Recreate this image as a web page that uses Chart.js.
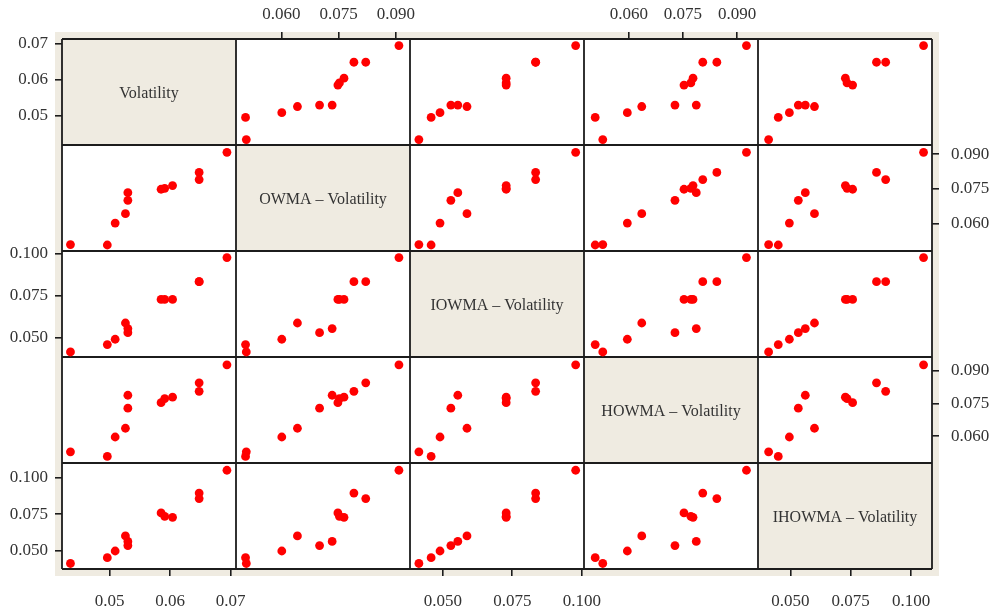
<!DOCTYPE html>
<html>
<head>
<meta charset="utf-8">
<script src="https://cdn.jsdelivr.net/npm/chart.js@4.4.1/dist/chart.umd.min.js"></script>
<style>
html, body { margin: 0; padding: 0; background: #ffffff; }
#wrap { position: relative; width: 1000px; height: 612px; }
</style>
</head>
<body>
<div id="wrap"><canvas id="c" width="1000" height="612"></canvas></div>
<script>
// ---- data ----
const variables = ['Volatility', 'OWMA', 'IOWMA', 'HOWMA', 'IHOWMA'];
const diagonalLabels = ['Volatility', 'OWMA \u2013 Volatility', 'IOWMA \u2013 Volatility', 'HOWMA \u2013 Volatility', 'IHOWMA \u2013 Volatility'];

const volatility = [0.0435, 0.0496, 0.0509, 0.0526, 0.0530, 0.0530, 0.0585, 0.0591, 0.0604, 0.0648, 0.0648, 0.0694];
const owma       = [0.0508, 0.0506, 0.0601, 0.0642, 0.0700, 0.0733, 0.0748, 0.0752, 0.0764, 0.0790, 0.0821, 0.0908];
const iowma      = [0.0414, 0.0458, 0.0490, 0.0587, 0.0529, 0.0554, 0.0728, 0.0728, 0.0728, 0.0834, 0.0834, 0.0978];
const howma      = [0.0528, 0.0507, 0.0596, 0.0636, 0.0728, 0.0787, 0.0753, 0.0772, 0.0778, 0.0805, 0.0844, 0.0926];
const ihowma     = [0.0410, 0.0450, 0.0496, 0.0600, 0.0533, 0.0562, 0.0758, 0.0735, 0.0728, 0.0895, 0.0857, 0.1052];

const volTicks = [0.05, 0.06, 0.07];
const volTickLabels = ['0.05', '0.06', '0.07'];
const owmaTicks = [0.060, 0.075, 0.090];
const owmaTickLabels = ['0.060', '0.075', '0.090'];
const iowmaTicks = [0.050, 0.075, 0.100];
const iowmaTickLabels = ['0.050', '0.075', '0.100'];
const howmaTicks = [0.060, 0.075, 0.090];
const howmaTickLabels = ['0.060', '0.075', '0.090'];
const ihowmaTicks = [0.050, 0.075, 0.100];
const ihowmaTickLabels = ['0.050', '0.075', '0.100'];

// axis ranges (x = columns, y = rows)
const xRanges = [[0.0421, 0.0709], [0.0481, 0.0937], [0.0382, 0.1008], [0.0476, 0.0958], [0.0366, 0.1087]];
const yRanges = [[0.0420, 0.0712], [0.0480, 0.0940], [0.0384, 0.1017], [0.0477, 0.0962], [0.0372, 0.1102]];

// ---- build ----
const series = [volatility, owma, iowma, howma, ihowma];
const axisTicks = [volTicks, owmaTicks, iowmaTicks, howmaTicks, ihowmaTicks];
const axisTickLabels = [volTickLabels, owmaTickLabels, iowmaTickLabels, howmaTickLabels, ihowmaTickLabels];

const FONT = { family: "'Liberation Serif', 'Times New Roman', serif", size: 17 };
const TEXT = '#333333';
const BEIGE = '#efebe1';
const LINE = '#1c1c1c';
const N = variables.length;

function makeScale(axis, position, stack, idx, show, range, weight, pad) {
  return {
    type: 'linear', axis: axis, position: position, stack: stack, stackWeight: 1, weight: weight,
    min: range[0], max: range[1], display: show,
    grid: { display: true, drawOnChartArea: false, drawTicks: true, tickLength: 7, color: LINE, lineWidth: 1.6 },
    border: { display: false },
    ticks: {
      autoSkip: false, maxRotation: 0, minRotation: 0, padding: pad, color: TEXT, font: FONT,
      callback: (v, k) => axisTickLabels[idx][k]
    },
    afterBuildTicks: (s) => { s.ticks = axisTicks[idx].map(v => ({ value: v })); },
    afterFit: (s) => {
      if (position === 'left') s.width = 62;
      if (position === 'right') s.width = 68;
      if (position === 'top') s.height = 39;
      if (position === 'bottom') s.height = 43;
      s.paddingLeft = 0; s.paddingRight = 0; s.paddingTop = 0; s.paddingBottom = 0;
    }
  };
}

const scales = {};
for (let j = 0; j < N; j++) {
  scales['xb' + j] = makeScale('x', 'bottom', 'xbottom', j, j % 2 === 0, xRanges[j], j, 15);
  scales['xt' + j] = makeScale('x', 'top', 'xtop', j, j % 2 === 1, xRanges[j], N - 1 - j, 7);
}
for (let i = 0; i < N; i++) {
  scales['yl' + i] = makeScale('y', 'left', 'yleft', i, i % 2 === 0, yRanges[i], N - 1 - i, 7);
  scales['yr' + i] = makeScale('y', 'right', 'yright', i, i % 2 === 1, yRanges[i], i, 12);
}

const datasets = [];
for (let i = 0; i < N; i++) {
  for (let j = 0; j < N; j++) {
    if (i === j) continue;
    datasets.push({
      label: variables[j] + ' vs ' + variables[i],
      data: series[j].map((xv, k) => ({ x: xv, y: series[i][k] })),
      xAxisID: 'xb' + j,
      yAxisID: 'yl' + i,
      backgroundColor: '#ff0000',
      borderWidth: 0,
      pointRadius: 4.4,
      pointHoverRadius: 4.4,
      clip: false
    });
  }
}

const matrixPlugin = {
  id: 'matrix',
  beforeDraw(chart) {
    const ctx = chart.ctx, a = chart.chartArea;
    ctx.save();
    ctx.fillStyle = BEIGE;
    ctx.fillRect(a.left - 7, a.top - 7, a.right - a.left + 14, a.bottom - a.top + 14);
    ctx.fillStyle = '#ffffff';
    ctx.fillRect(a.left, a.top, a.right - a.left, a.bottom - a.top);
    ctx.fillStyle = BEIGE;
    for (let i = 0; i < N; i++) {
      const xs = chart.scales['xb' + i], ys = chart.scales['yl' + i];
      ctx.fillRect(xs.left, ys.top, xs.right - xs.left, ys.bottom - ys.top);
    }
    ctx.restore();
  },
  beforeDatasetsDraw(chart) {
    const ctx = chart.ctx, a = chart.chartArea;
    ctx.save();
    ctx.strokeStyle = LINE;
    ctx.lineWidth = 1.8;
    ctx.beginPath();
    for (let j = 0; j < N; j++) {
      const xs = chart.scales['xb' + j];
      if (j === 0) { ctx.moveTo(xs.left, a.top); ctx.lineTo(xs.left, a.bottom); }
      ctx.moveTo(xs.right, a.top); ctx.lineTo(xs.right, a.bottom);
    }
    for (let i = 0; i < N; i++) {
      const ys = chart.scales['yl' + i];
      if (i === 0) { ctx.moveTo(a.left, ys.top); ctx.lineTo(a.right, ys.top); }
      ctx.moveTo(a.left, ys.bottom); ctx.lineTo(a.right, ys.bottom);
    }
    ctx.stroke();
    ctx.restore();
  },
  afterDraw(chart) {
    const ctx = chart.ctx;
    ctx.save();
    ctx.fillStyle = TEXT;
    ctx.font = "16px 'Liberation Serif', 'Times New Roman', serif";
    ctx.textAlign = 'center';
    ctx.textBaseline = 'middle';
    for (let i = 0; i < N; i++) {
      const xs = chart.scales['xb' + i], ys = chart.scales['yl' + i];
      ctx.fillText(diagonalLabels[i], (xs.left + xs.right) / 2, (ys.top + ys.bottom) / 2 + 1.5);
    }
    ctx.restore();
  }
};

new Chart(document.getElementById('c'), {
  type: 'scatter',
  data: { datasets: datasets },
  options: {
    responsive: false,
    animation: false,
    devicePixelRatio: 1,
    layout: { padding: 0 },
    plugins: { legend: { display: false }, tooltip: { enabled: false }, title: { display: false } },
    scales: scales
  },
  plugins: [matrixPlugin]
});
</script>
</body>
</html>
